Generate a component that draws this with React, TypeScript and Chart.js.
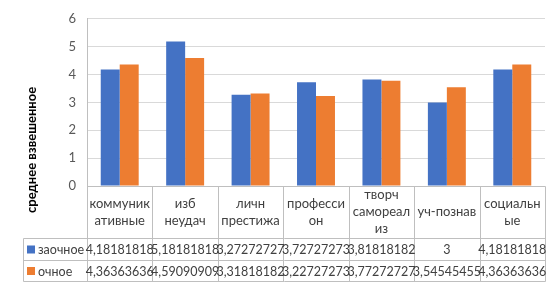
import React, { useEffect, useRef } from "react";
import { Chart, registerables } from "chart.js";

Chart.register(...registerables);

const categories: string[][] = [
  ["коммуник", "ативные"],
  ["изб", "неудач"],
  ["личн", "престижа"],
  ["професси", "он"],
  ["творч", "самореал", "из"],
  ["уч-познав"],
  ["социальн", "ые"],
];
const seriesNames = ["заочное", "очное"];
const zaochnoe = [4.18181818, 5.18181818, 3.27272727, 3.72727273, 3.81818182, 3, 4.18181818];
const ochnoe = [4.36363636, 4.59090909, 3.31818182, 3.22727273, 3.77272727, 3.54545455, 4.36363636];
const seriesColors = ["#4472C4", "#ED7D31"];
const yMin = 0;
const yMax = 6;
const yStep = 1;
const yTitle = "среднее взвешенное";

const FONT = "Lato, 'Noto Sans', sans-serif";

const fmt = (v: number) => String(Number(v.toFixed(8))).replace(".", ",");

const tablePlugin = {
  id: "dataTable",
  afterDraw(chart: any) {
    const ctx = chart.ctx as CanvasRenderingContext2D;
    const area = chart.chartArea;
    const n = categories.length;
    const cw = (area.right - area.left) / n;
    const top = area.bottom;
    const headerBottom = top + 52;
    const row1Bottom = headerBottom + 22;
    const row2Bottom = row1Bottom + 21;
    const legendLeft = 23;
    ctx.save();
    ctx.strokeStyle = "#bfbfbf";
    ctx.lineWidth = 1;
    const line = (x1: number, y1: number, x2: number, y2: number) => {
      ctx.beginPath();
      ctx.moveTo(Math.round(x1) + 0.5, Math.round(y1) + 0.5);
      ctx.lineTo(Math.round(x2) + 0.5, Math.round(y2) + 0.5);
      ctx.stroke();
    };
    line(area.left, top, area.right, top);
    line(legendLeft, headerBottom, area.right, headerBottom);
    line(legendLeft, row1Bottom, area.right, row1Bottom);
    line(legendLeft, row2Bottom, area.right, row2Bottom);
    for (let i = 0; i <= n; i++) {
      const x = area.left + i * cw;
      line(x, top, x, row2Bottom);
    }
    line(legendLeft, headerBottom, legendLeft, row2Bottom);

    ctx.fillStyle = "#404040";
    ctx.font = `13px ${FONT}`;
    ctx.textAlign = "center";
    ctx.textBaseline = "middle";
    const lh = 17;
    categories.forEach((lines, i) => {
      const cx = area.left + (i + 0.5) * cw;
      const cy = (top + headerBottom) / 2;
      const start = cy - ((lines.length - 1) * lh) / 2;
      lines.forEach((t, j) => ctx.fillText(t, cx, start + j * lh));
    });

    const rows = [zaochnoe, ochnoe];
    const rowTops = [headerBottom, row1Bottom];
    const rowBottoms = [row1Bottom, row2Bottom];
    rows.forEach((vals, r) => {
      const cy = (rowTops[r] + rowBottoms[r]) / 2 + 1;
      ctx.fillStyle = "#404040";
      ctx.textAlign = "center";
      ctx.font = `12.5px ${FONT}`;
      vals.forEach((v, i) => {
        const cx = area.left + (i + 0.5) * cw;
        ctx.fillText(fmt(v), cx, cy);
      });
      ctx.fillStyle = seriesColors[r];
      ctx.fillRect(legendLeft + 4, cy - 4.5, 8, 8);
      ctx.fillStyle = "#404040";
      ctx.textAlign = "left";
      ctx.font = `12.5px ${FONT}`;
      ctx.fillText(seriesNames[r], legendLeft + 15, cy);
    });

    ctx.save();
    ctx.translate(32, (area.top + row2Bottom) / 2);
    ctx.rotate(-Math.PI / 2);
    ctx.font = `bold 13px ${FONT}`;
    ctx.fillStyle = "#000000";
    ctx.textAlign = "center";
    ctx.textBaseline = "middle";
    ctx.fillText(yTitle, 0, 0);
    ctx.restore();
    ctx.restore();
  },
};

export default function App() {
  const ref = useRef<HTMLCanvasElement | null>(null);
  useEffect(() => {
    if (!ref.current) return;
    const chart = new Chart(ref.current, {
      type: "bar",
      data: {
        labels: categories.map((c) => c.join("")),
        datasets: [
          { label: seriesNames[0], data: zaochnoe, backgroundColor: seriesColors[0] },
          { label: seriesNames[1], data: ochnoe, backgroundColor: seriesColors[1] },
        ],
      },
      options: {
        animation: false,
        responsive: false,
        devicePixelRatio: 1,
        layout: { padding: { top: 15, right: 14, bottom: 102, left: 0 } },
        plugins: { legend: { display: false }, tooltip: { enabled: false }, title: { display: false } },
        datasets: { bar: { categoryPercentage: 0.58, barPercentage: 1 } },
        scales: {
          x: {
            display: false,
          },
          y: {
            min: yMin,
            max: yMax,
            ticks: {
              stepSize: yStep,
              padding: 11,
              color: "#595959",
              font: { family: FONT, size: 13 },
            },
            grid: { color: "#d9d9d9", drawTicks: false },
            border: { display: true, color: "#bfbfbf" },
            afterFit: (scale: any) => {
              scale.width = 87;
            },
          },
        },
      },
      plugins: [tablePlugin],
    });
    return () => chart.destroy();
  }, []);
  return (
    <div style={{ position: "fixed", left: 0, top: 0, width: 559, height: 288, background: "#fff" }}>
      <canvas ref={ref} width={559} height={288} style={{ display: "block" }} />
    </div>
  );
}
